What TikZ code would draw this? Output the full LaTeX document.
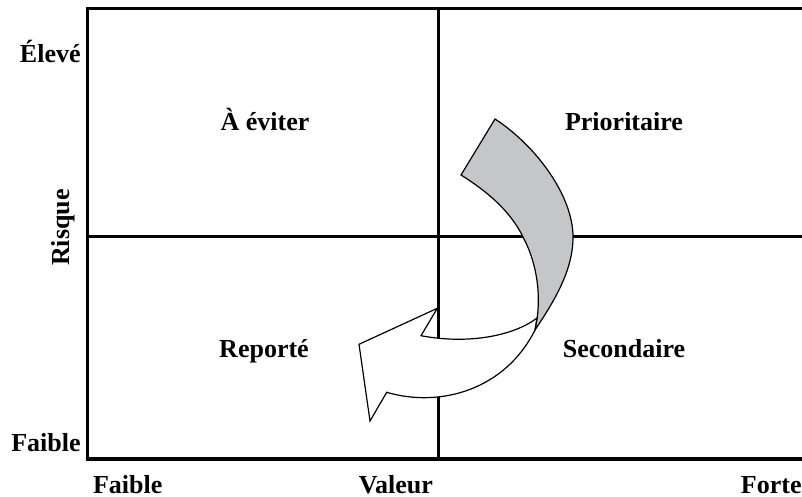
\documentclass[tikz,border=0pt]{standalone}
\usepackage{fontspec}
\setmainfont{Liberation Serif}
\usepackage{tikz}
\usetikzlibrary{positioning}
\definecolor{ribbongray}{HTML}{C5C6C8}

\begin{document}
\begin{tikzpicture}[x=0.5pt, y=-0.5pt,
  axislbl/.style={font=\fontsize{13}{15}\selectfont\bfseries, inner sep=0pt},
  quadlbl/.style={font=\fontsize{13}{15}\selectfont\bfseries, inner sep=0pt,
               anchor=base},
  frame/.style={line width=1.6pt},
  split/.style={line width=1.3pt},
  ribbon/.style={draw, line width=0.6pt, line join=miter},
]
  \useasboundingbox (0,0) rectangle (802,497);
  \clip (0,0) rectangle (802,497);

  % frame and quadrant lines
  \draw[frame] (830,8.3) -- (87.5,8.3) -- (87.5,459) -- (830,459);
  \draw[split] (438.3,8.3) -- (438.3,459);
  \draw[split] (87.5,236.7) -- (830,236.7);

  % axis labels
  \node[axislbl, anchor=base east] (hi) at (81,62.7) {Élevé};
  \node[axislbl, anchor=base east] (lo) at (81,451) {Faible};
  \node[axislbl, anchor=base, rotate=90] (risk) at (69,227.5) {Risque};
  \node[axislbl, anchor=base west] (weak) at (92.7,493.3) {Faible};
  \node[axislbl, anchor=base east] (val) at (433.3,493.3) {Valeur};
  \node[axislbl, anchor=base east] (strong) at (802,493.3) {Forte};

  % quadrants
  \node[quadlbl] (avoid) at (265,131) {À éviter};
  \node[quadlbl] (prio) at (624,131) {Prioritaire};
  \node[quadlbl] (defer) at (264,357.3) {Reporté};
  \node[quadlbl] (second) at (624,357.3) {Secondaire};

  % twisted arrow
  \draw[ribbon, fill=white] (535,330) .. controls (505,390) and (440,408) .. (386.7,392.3)
    -- (370,421) -- (359,344.3) -- (437.3,308.3) -- (421,335.7)
    .. controls (470,345) and (515,335) .. (537,318) -- cycle;
  \draw[ribbon, fill=ribbongray] (495,119) .. controls (535,145) and (573,195) .. (573,237)
    .. controls (573,270) and (555,300) .. (535,330)
    .. controls (542,300) and (538,265) .. (523,237)
    .. controls (510,210) and (485,190) .. (461,175) -- cycle;
\end{tikzpicture}
\end{document}
